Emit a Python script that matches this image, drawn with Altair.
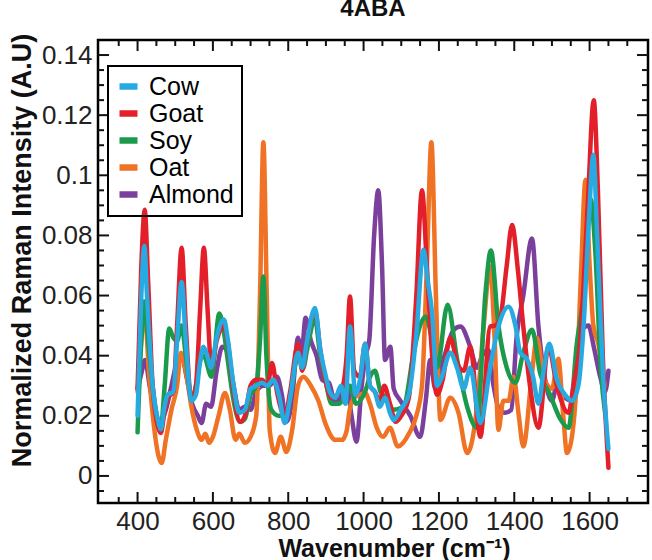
import altair as alt
import pandas as pd

FONT = "Liberation Sans"

series_names = ["Cow", "Goat", "Soy", "Oat", "Almond"]
series_colors = ["#27AAE1", "#E3202A", "#1B9A4B", "#F07224", "#7B3F9C"]
draw_order = ["Almond", "Oat", "Soy", "Goat", "Cow"]

cow = [(400,0.020),(410,0.060),(418,0.0765),(425,0.060),(440,0.030),(455,0.018),(462,0.0155),(470,0.022),
       (480,0.027),(495,0.028),(505,0.045),(517,0.0645),(528,0.045),(543,0.025),(555,0.027),(565,0.037),
       (575,0.043),(585,0.040),(595,0.036),(610,0.046),(629,0.052),(640,0.045),(655,0.030),(670,0.021),
       (685,0.022),(700,0.029),(715,0.030),(730,0.031),(745,0.030),(760,0.032),(775,0.027),(791,0.0176),
       (805,0.026),(826,0.041),(837,0.036),(850,0.045),(871,0.0559),(885,0.042),(900,0.033),(910,0.028),
       (925,0.026),(940,0.030),(952,0.024),(964,0.0497),(978,0.027),(992,0.033),(1004,0.044),(1017,0.030),
       (1030,0.028),(1043,0.023),(1057,0.026),(1070,0.021),(1080,0.0186),(1098,0.022),(1120,0.027),
       (1140,0.047),(1159,0.0752),(1170,0.065),(1182,0.054),(1195,0.030),(1208,0.033),(1230,0.041),
       (1248,0.036),(1266,0.029),(1283,0.036),(1310,0.0176),(1336,0.036),(1358,0.0497),(1385,0.0563),
       (1403,0.050),(1416,0.041),(1433,0.039),(1450,0.033),(1464,0.024),(1478,0.035),(1493,0.044),
       (1513,0.032),(1535,0.027),(1553,0.025),(1570,0.030),(1584,0.050),(1598,0.085),(1610,0.1068),
       (1620,0.080),(1635,0.035),(1650,0.009)]

goat = [(400,0.029),(410,0.070),(419,0.0885),(428,0.065),(440,0.030),(455,0.016),(462,0.0143),(470,0.020),
        (480,0.026),(495,0.028),(505,0.050),(517,0.0759),(528,0.050),(543,0.025),(555,0.030),(566,0.055),
        (576,0.0759),(586,0.055),(596,0.036),(610,0.045),(629,0.050),(640,0.044),(655,0.028),(672,0.018),
        (685,0.020),(700,0.030),(715,0.032),(730,0.032),(745,0.030),(757,0.0376),(770,0.028),(791,0.020),
        (805,0.028),(826,0.044),(837,0.035),(850,0.045),(871,0.055),(885,0.042),(900,0.031),(915,0.026),
        (930,0.027),(945,0.030),(955,0.040),(964,0.0597),(975,0.035),(990,0.033),(1004,0.044),(1017,0.030),
        (1030,0.028),(1043,0.025),(1055,0.030),(1070,0.024),(1085,0.018),(1100,0.020),(1120,0.026),
        (1140,0.060),(1155,0.095),(1168,0.070),(1182,0.040),(1195,0.027),(1210,0.032),(1230,0.046),
        (1250,0.037),(1266,0.035),(1283,0.043),(1310,0.013),(1336,0.0497),(1349,0.050),(1362,0.052),
        (1380,0.070),(1394,0.0835),(1410,0.068),(1424,0.0497),(1442,0.0297),(1464,0.016),(1491,0.043),
        (1513,0.030),(1544,0.021),(1557,0.030),(1575,0.045),(1595,0.090),(1611,0.125),(1622,0.095),
        (1635,0.040),(1650,0.0027)]

soy = [(400,0.0145),(410,0.045),(418,0.058),(428,0.045),(440,0.030),(455,0.018),(462,0.0165),(472,0.030),
       (484,0.049),(495,0.046),(505,0.045),(517,0.050),(528,0.040),(543,0.026),(555,0.030),(565,0.038),
       (576,0.040),(596,0.033),(617,0.054),(629,0.048),(640,0.038),(655,0.025),(672,0.018),(685,0.019),
       (700,0.027),(715,0.030),(725,0.045),(734,0.0663),(742,0.040),(755,0.022),(775,0.020),(791,0.020),
       (805,0.026),(826,0.040),(840,0.036),(850,0.042),(871,0.052),(885,0.040),(900,0.031),(915,0.024),
       (935,0.024),(955,0.028),(964,0.030),(980,0.024),(1004,0.028),(1017,0.033),(1030,0.035),(1045,0.028),
       (1060,0.026),(1080,0.022),(1106,0.023),(1133,0.041),(1150,0.050),(1165,0.053),(1182,0.045),
       (1195,0.036),(1223,0.0569),(1248,0.039),(1275,0.023),(1301,0.016),(1323,0.060),(1338,0.075),
       (1358,0.050),(1380,0.036),(1403,0.031),(1424,0.041),(1447,0.0486),(1469,0.034),(1495,0.027),
       (1522,0.019),(1544,0.016),(1566,0.044),(1584,0.060),(1603,0.092),(1615,0.075),(1630,0.035),
       (1642,0.020)]

oat = [(400,0.028),(410,0.045),(419,0.055),(430,0.035),(445,0.015),(455,0.007),(464,0.0043),(475,0.012),
       (490,0.022),(505,0.030),(515,0.041),(528,0.035),(543,0.023),(558,0.015),(570,0.012),(580,0.014),
       (590,0.011),(600,0.013),(615,0.020),(632,0.0276),(645,0.022),(660,0.012),(670,0.014),(685,0.011),
       (700,0.013),(715,0.020),(725,0.060),(734,0.111),(743,0.060),(751,0.015),(765,0.0076),(780,0.013),
       (795,0.008),(810,0.015),(826,0.030),(840,0.033),(860,0.030),(880,0.025),(900,0.017),(925,0.012),
       (943,0.012),(955,0.015),(963,0.022),(975,0.026),(990,0.027),(1004,0.0276),(1017,0.024),(1035,0.016),
       (1052,0.013),(1070,0.016),(1091,0.0098),(1120,0.014),(1140,0.020),(1155,0.030),(1168,0.070),
       (1180,0.111),(1192,0.060),(1204,0.0186),(1230,0.026),(1252,0.021),(1275,0.0076),(1301,0.023),
       (1319,0.050),(1336,0.0697),(1348,0.045),(1358,0.0153),(1371,0.025),(1385,0.025),(1398,0.033),
       (1412,0.020),(1424,0.0098),(1447,0.034),(1460,0.046),(1478,0.033),(1500,0.029),(1517,0.039),
       (1530,0.020),(1540,0.0076),(1553,0.013),(1565,0.030),(1578,0.070),(1589,0.0985),(1600,0.070),
       (1610,0.050),(1623,0.044),(1640,0.030)]

almond = [(400,0.029),(410,0.034),(420,0.0386),(432,0.030),(445,0.022),(460,0.018),(475,0.022),(490,0.030),
          (505,0.038),(517,0.040),(530,0.033),(545,0.024),(560,0.020),(570,0.0176),(582,0.024),(595,0.023),
          (610,0.035),(625,0.043),(640,0.041),(655,0.030),(670,0.022),(685,0.023),(700,0.022),(715,0.028),
          (734,0.030),(750,0.030),(770,0.033),(783,0.027),(795,0.018),(810,0.025),(826,0.046),(835,0.040),
          (846,0.0526),(860,0.045),(875,0.040),(890,0.032),(908,0.031),(925,0.024),(940,0.027),(955,0.030),
          (968,0.020),(981,0.0114),(995,0.030),(1005,0.040),(1015,0.045),(1028,0.080),(1039,0.095),
          (1049,0.070),(1057,0.0386),(1071,0.043),(1080,0.029),(1098,0.025),(1124,0.020),(1150,0.013),
          (1165,0.025),(1177,0.0386),(1190,0.029),(1215,0.040),(1239,0.0486),(1257,0.0497),(1283,0.043),
          (1301,0.036),(1315,0.040),(1331,0.042),(1345,0.030),(1360,0.022),(1375,0.021),(1392,0.022),
          (1406,0.046),(1424,0.060),(1447,0.079),(1464,0.050),(1482,0.032),(1500,0.025),(1513,0.030),
          (1535,0.026),(1553,0.025),(1580,0.0486),(1597,0.050),(1611,0.043),(1628,0.033),(1641,0.028),
          (1650,0.035)]

spectra = {"Cow": cow, "Goat": goat, "Soy": soy, "Oat": oat, "Almond": almond}

x_major = [400, 600, 800, 1000, 1200, 1400, 1600]
x_minor = [350, 450, 500, 550, 650, 700, 750, 850, 900, 950, 1050, 1100, 1150,
           1250, 1300, 1350, 1450, 1500, 1550, 1650, 1700]
y_major = [0, 0.02, 0.04, 0.06, 0.08, 0.1, 0.12, 0.14]
y_minor = [-0.005, 0.005, 0.01, 0.015, 0.025, 0.03, 0.035, 0.045, 0.05, 0.055, 0.065,
           0.07, 0.075, 0.085, 0.09, 0.095, 0.105, 0.11, 0.115, 0.125, 0.13, 0.135]

x_domain = [295, 1755]
y_domain = [-0.009, 0.145]

PLOT_W, PLOT_H = 550, 463
MAJOR_PX, MINOR_PX = 11, 6

frames = []
for name, pts in spectra.items():
    frames.append(pd.DataFrame({"wavenumber": [p[0] for p in pts],
                                "intensity": [p[1] for p in pts],
                                "sample": name}))
df = pd.concat(frames, ignore_index=True)

# inward tick marks mirrored on all four sides; tick lengths converted from pixels to data units
x_per_px = (x_domain[1] - x_domain[0]) / PLOT_W
y_per_px = (y_domain[1] - y_domain[0]) / PLOT_H
xt_rows, yt_rows = [], []
for vals, px in ((x_major, MAJOR_PX), (x_minor, MINOR_PX)):
    ln = px * y_per_px
    for v in vals:
        xt_rows.append({"wavenumber": v, "intensity": y_domain[0], "y_end": y_domain[0] + ln})
        xt_rows.append({"wavenumber": v, "intensity": y_domain[1], "y_end": y_domain[1] - ln})
for vals, px in ((y_major, MAJOR_PX), (y_minor, MINOR_PX)):
    ln = px * x_per_px
    for v in vals:
        yt_rows.append({"intensity": v, "wavenumber": x_domain[0], "x_end": x_domain[0] + ln})
        yt_rows.append({"intensity": v, "wavenumber": x_domain[1], "x_end": x_domain[1] - ln})
xticks_df = pd.DataFrame(xt_rows)
yticks_df = pd.DataFrame(yt_rows)

xs = alt.Scale(domain=x_domain, nice=False, zero=False)
ys = alt.Scale(domain=y_domain, nice=False, zero=False)
cs = alt.Scale(domain=series_names, range=series_colors)

legend = alt.Legend(title=None, orient="none", legendX=10, legendY=26,
                    symbolType="stroke", symbolStrokeWidth=6.5, symbolSize=324,
                    labelFont=FONT, labelFontSize=25, labelOffset=8,
                    rowPadding=0, padding=8, strokeColor="black")

AX_X = alt.Axis(values=x_major, orient="bottom", ticks=False, domain=False, grid=False,
                format="d", labelFont=FONT, labelFontSize=26, labelColor="#222", labelPadding=5,
                title="Wavenumber (cm⁻¹)", titleFont=FONT, titleFontSize=25,
                titleFontWeight="bold", titleColor="#111",
                titleX=296, titleY=45, titleBaseline="middle", titleAlign="center")
AX_Y = alt.Axis(values=y_major, orient="left", ticks=False, domain=False, grid=False,
                format=".2~f", labelFont=FONT, labelFontSize=26, labelColor="#222",
                labelPadding=6, title="Normalized Raman Intensity (A.U)", titleFont=FONT,
                titleFontSize=27, titleFontWeight="bold", titleColor="#111",
                titleX=-76, titleY=210, titleBaseline="middle", titleAlign="center")

X = alt.X("wavenumber:Q", scale=xs, axis=AX_X)
Y = alt.Y("intensity:Q", scale=ys, axis=AX_Y)

layers = []
for i, name in enumerate(draw_order):
    sub = df[df["sample"] == name]
    layers.append(
        alt.Chart(sub).mark_line(strokeWidth=4.5, interpolate="monotone",
                                 strokeJoin="round", strokeCap="round").encode(
            x=X, y=Y,
            color=alt.Color("sample:N", scale=cs, legend=legend if i == 0 else None),
        )
    )

layers.append(
    alt.Chart(xticks_df).mark_rule(color="#111", strokeWidth=2).encode(
        x=X, y=Y, y2="y_end:Q",
    )
)
layers.append(
    alt.Chart(yticks_df).mark_rule(color="#111", strokeWidth=2).encode(
        x=X, y=Y, x2="x_end:Q",
    )
)

chart = alt.layer(*layers).properties(
    width=PLOT_W, height=PLOT_H,
    autosize=alt.AutoSizeParams(type="none"),
    padding={"left": 98, "top": 40, "right": 4, "bottom": 57},
    title=alt.Title("4ABA", font=FONT, fontSize=24, fontWeight="bold", color="#111",
                    anchor="middle", frame="group", offset=12),
).configure_view(stroke="black", strokeWidth=2.5).configure_legend(strokeWidth=2)

chart.save("out.html", embed_options={"renderer": "svg", "actions": False})
